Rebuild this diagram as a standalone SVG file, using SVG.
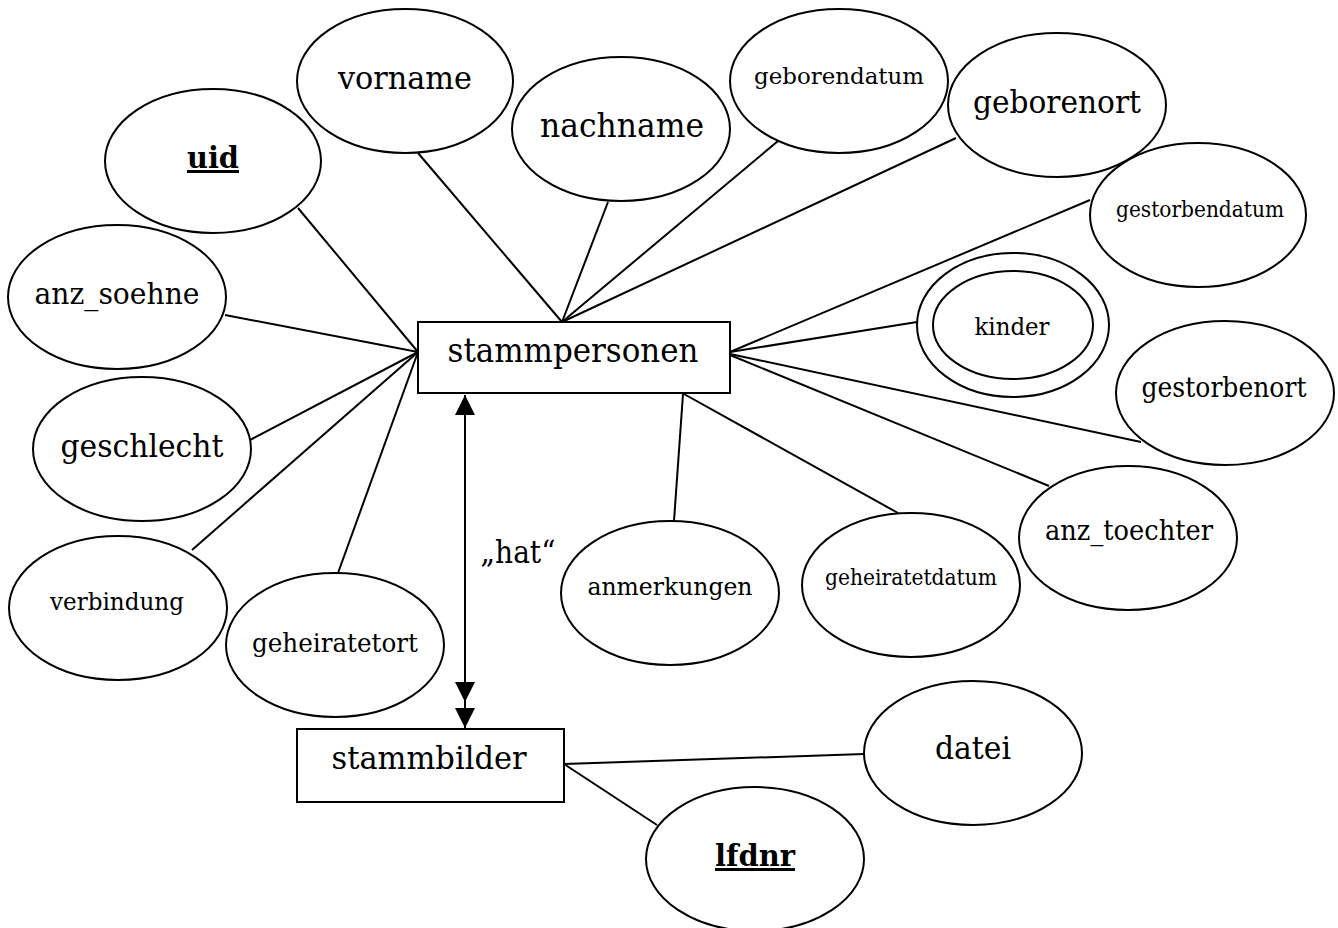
<svg xmlns="http://www.w3.org/2000/svg" width="1338" height="928" viewBox="0 0 1338 928">
<style>
.n{fill:#fff;stroke:#000;stroke-width:2}
.c{fill:none;stroke:#000;stroke-width:2}
text{font-family:"DejaVu Serif","Liberation Serif",serif;fill:#000;text-anchor:middle}
.k{font-weight:bold;text-decoration:underline}
</style>
<defs>
<marker id="ah" markerUnits="userSpaceOnUse" markerWidth="20" markerHeight="20" viewBox="0 0 20 20" refX="20" refY="10" orient="auto-start-reverse">
<path d="M0,0 L20,10 L0,20 z" fill="#000"/>
</marker>
</defs>
<rect width="1338" height="928" fill="#fff"/>
<g id="connectors">
<line class="c" x1="298" y1="208" x2="418" y2="352"/>
<line class="c" x1="418" y1="153" x2="562" y2="322"/>
<line class="c" x1="608" y1="202" x2="562" y2="322"/>
<line class="c" x1="778" y1="141" x2="562" y2="322"/>
<line class="c" x1="956" y1="138" x2="562" y2="322"/>
<line class="c" x1="225" y1="315" x2="418" y2="352"/>
<line class="c" x1="250" y1="440" x2="418" y2="352"/>
<line class="c" x1="192" y1="550" x2="418" y2="352"/>
<line class="c" x1="338" y1="573" x2="418" y2="352"/>
<line class="c" x1="1090" y1="200" x2="730" y2="352"/>
<line class="c" x1="917" y1="322" x2="730" y2="352"/>
<line class="c" x1="1141" y1="442" x2="730" y2="354"/>
<line class="c" x1="1049" y1="486" x2="730" y2="355"/>
<line class="c" x1="684" y1="394" x2="898" y2="513"/>
<line class="c" x1="683" y1="394" x2="674" y2="521"/>
<line class="c" x1="564" y1="764" x2="864" y2="754"/>
<line class="c" x1="564" y1="764" x2="657" y2="825"/>
<path class="c" d="M465,395 L465,728" marker-start="url(#ah)" marker-end="url(#ah)"/>
<path class="c" d="M465,680 L465,702" marker-end="url(#ah)"/>
<text x="518" y="563" font-size="32" textLength="75" lengthAdjust="spacingAndGlyphs">„hat“</text>
</g>
<g id="stammpersonen"><rect class="n" x="418" y="322" width="312" height="71"/><text x="573" y="362" font-size="33" textLength="251" lengthAdjust="spacingAndGlyphs">stammpersonen</text></g>
<g id="stammbilder"><rect class="n" x="297" y="729" width="267" height="73"/><text x="429" y="769" font-size="32" textLength="195" lengthAdjust="spacingAndGlyphs">stammbilder</text></g>
<g id="vorname"><ellipse class="n" cx="405" cy="81" rx="108" ry="72"/><text x="405" y="89" font-size="32" textLength="134" lengthAdjust="spacingAndGlyphs">vorname</text></g>
<g id="uid"><ellipse class="n" cx="213" cy="161" rx="108" ry="72"/><text class="k" x="213" y="168" font-size="30" textLength="52" lengthAdjust="spacingAndGlyphs">uid</text></g>
<g id="anz_soehne"><ellipse class="n" cx="117" cy="297" rx="109" ry="72"/><text x="117" y="304" font-size="30" textLength="165" lengthAdjust="spacingAndGlyphs">anz_soehne</text></g>
<g id="nachname"><ellipse class="n" cx="621" cy="129" rx="109" ry="72"/><text x="622" y="137" font-size="33" textLength="164" lengthAdjust="spacingAndGlyphs">nachname</text></g>
<g id="geborendatum"><ellipse class="n" cx="839" cy="81" rx="109" ry="72"/><text x="839" y="84" font-size="23" textLength="170" lengthAdjust="spacingAndGlyphs">geborendatum</text></g>
<g id="geborenort"><ellipse class="n" cx="1057" cy="105" rx="109" ry="72"/><text x="1057" y="113" font-size="32" textLength="168" lengthAdjust="spacingAndGlyphs">geborenort</text></g>
<g id="gestorbendatum"><ellipse class="n" cx="1198" cy="215" rx="108" ry="72"/><text x="1200" y="217" font-size="21.5" textLength="168" lengthAdjust="spacingAndGlyphs">gestorbendatum</text></g>
<g id="kinder"><ellipse class="n" cx="1013" cy="325" rx="96" ry="72"/><ellipse class="n" cx="1013" cy="325" rx="80" ry="54"/><text x="1012" y="335" font-size="24" textLength="75" lengthAdjust="spacingAndGlyphs">kinder</text></g>
<g id="gestorbenort"><ellipse class="n" cx="1225" cy="393" rx="109" ry="72"/><text x="1224" y="397" font-size="27" textLength="165" lengthAdjust="spacingAndGlyphs">gestorbenort</text></g>
<g id="anz_toechter"><ellipse class="n" cx="1128" cy="538" rx="109" ry="72"/><text x="1129" y="540" font-size="27" textLength="168" lengthAdjust="spacingAndGlyphs">anz_toechter</text></g>
<g id="geheiratetdatum"><ellipse class="n" cx="911" cy="585" rx="109" ry="72"/><text x="911" y="585" font-size="21.5" textLength="172" lengthAdjust="spacingAndGlyphs">geheiratetdatum</text></g>
<g id="anmerkungen"><ellipse class="n" cx="670" cy="593" rx="109" ry="72"/><text x="670" y="595" font-size="24.5" textLength="165" lengthAdjust="spacingAndGlyphs">anmerkungen</text></g>
<g id="geschlecht"><ellipse class="n" cx="142" cy="449" rx="109" ry="72"/><text x="142" y="457" font-size="32" textLength="163" lengthAdjust="spacingAndGlyphs">geschlecht</text></g>
<g id="verbindung"><ellipse class="n" cx="118" cy="608" rx="109" ry="72"/><text x="117" y="610" font-size="24.5" textLength="134" lengthAdjust="spacingAndGlyphs">verbindung</text></g>
<g id="geheiratetort"><ellipse class="n" cx="335" cy="645" rx="109" ry="72"/><text x="335" y="652" font-size="26" textLength="166" lengthAdjust="spacingAndGlyphs">geheiratetort</text></g>
<g id="datei"><ellipse class="n" cx="973" cy="753" rx="109" ry="72"/><text x="973" y="759" font-size="32" textLength="76" lengthAdjust="spacingAndGlyphs">datei</text></g>
<g id="lfdnr"><ellipse class="n" cx="755" cy="859" rx="109" ry="72"/><text class="k" x="755" y="866" font-size="30" textLength="80" lengthAdjust="spacingAndGlyphs">lfdnr</text></g>
</svg>
